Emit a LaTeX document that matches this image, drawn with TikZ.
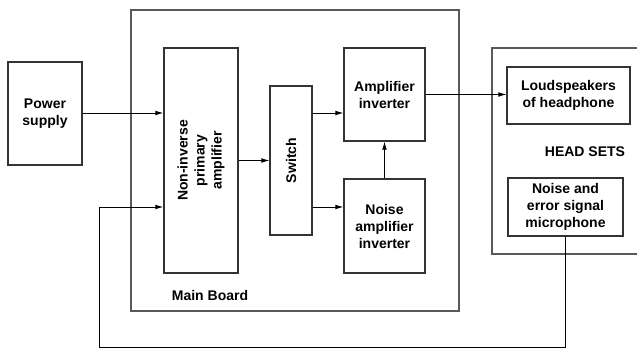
\documentclass[tikz,border=0pt]{standalone}
\usepackage{fontspec}
\setmainfont{Liberation Sans}
\usetikzlibrary{arrows.meta}

\begin{document}
\begin{tikzpicture}[
    x=0.75pt, y=-0.75pt,
    block/.style={draw=black!80, line width=0.8pt, align=center, inner sep=1pt,
        font=\bfseries\fontsize{10.5}{12.75}\selectfont},
    sz/.style 2 args={minimum width=#1*0.75pt, minimum height=#2*0.75pt},
    frame/.style={draw=black!65, line width=1pt},
    label/.style={font=\bfseries\fontsize{10.5}{12.75}\selectfont},
    arr/.style={-{Latex[length=6pt,width=3.5pt]}, line width=0.7pt},
    wire/.style={line width=0.7pt}
]
\useasboundingbox (0,0) rectangle (637,349);
% frames
\draw[frame] (131,10) rectangle (459,311);
\draw[frame] (640,48) -- (492,48) -- (492,254) -- (640,254);
\node[label] (mainlbl) at (210,295) {Main Board};
\node[label] (headlbl) at (585,152) {HEAD SETS};

% blocks
\node[block, sz={74}{103}] (power) at (45,113.5) {Power\\supply};
\node[block, sz={74}{225}] (nipa) at (201,160.5) {};
\node[rotate=90, label, align=center] (nipatxt) at (nipa) {Non-inverse\\primary\\amplifier};
\node[block, sz={42}{149}] (switch) at (291,160.5) {};
\node[rotate=90, label] (switchtxt) at (switch) {Switch};
\node[block, sz={81}{93}] (ampinv) at (384.5,94.5) {Amplifier\\inverter};
\node[block, sz={81}{94}] (noiseinv) at (384.5,226) {Noise\\amplifier\\inverter};
\node[block, sz={123}{57}] (loud) at (568.5,95.5) {Loudspeakers\\of headphone};
\node[block, sz={115}{58}] (mic) at (565.5,207) {Noise and\\error signal\\microphone};

\coordinate (fbcorner) at (99,347);

% connections
\draw[arr] (power.east |- 0,113) -- (nipa.west |- 0,113);
\draw[arr] (nipa) -- (switch);
\draw[arr] (switch.east |- 0,113) -- (ampinv.west |- 0,113);
\draw[arr] (switch.east |- 0,207) -- (noiseinv.west |- 0,207);
\draw[arr] (noiseinv) -- (ampinv);
\draw[arr] (ampinv.east) -- (loud.west |- ampinv.east);
\draw[wire] (mic.south) |- (fbcorner);
\draw[arr] (fbcorner) |- (nipa.west |- 0,207);
\end{tikzpicture}
\end{document}
